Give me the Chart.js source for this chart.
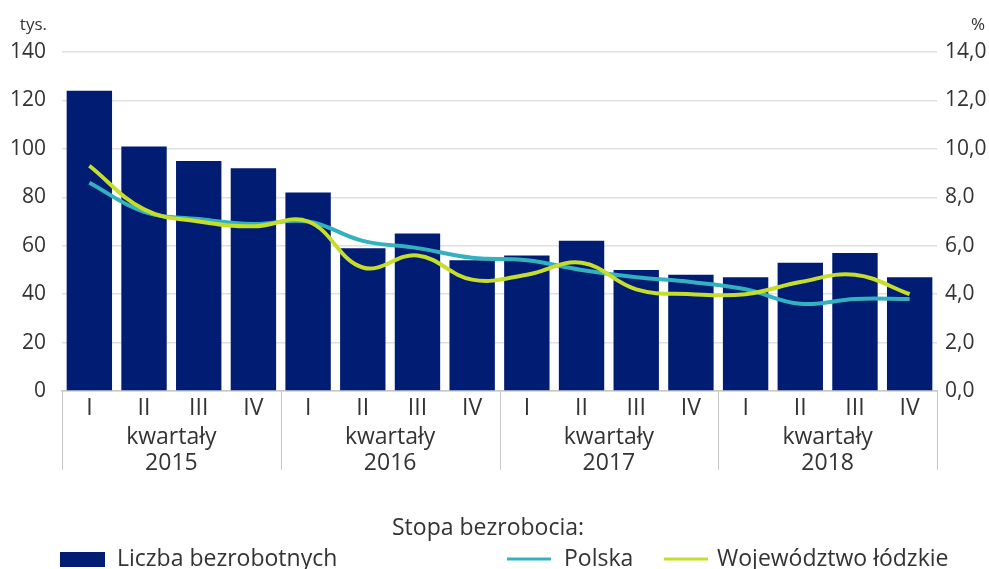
<!DOCTYPE html>
<html lang="pl">
<head>
<meta charset="utf-8">
<script src="https://cdn.jsdelivr.net/npm/chart.js@4/dist/chart.umd.min.js"></script>
<style>
  html, body { margin: 0; padding: 0; background: #fff; }
  #wrap { position: relative; width: 989px; height: 569px; overflow: hidden; }
</style>
</head>
<body>
<div id="wrap"><canvas id="chart" width="989" height="569"></canvas></div>
<script>
// quarters and years
const quarters = ['I', 'II', 'III', 'IV', 'I', 'II', 'III', 'IV', 'I', 'II', 'III', 'IV', 'I', 'II', 'III', 'IV'];
const years = ['2015', '2016', '2017', '2018'];

// liczba bezrobotnych, tys.
const unemployed = [124, 101, 95, 92, 82, 59, 65, 54, 56, 62, 50, 48, 47, 53, 57, 47];
// stopa bezrobocia, %
const ratePolska = [8.6, 7.4, 7.1, 6.9, 7.0, 6.2, 5.9, 5.5, 5.4, 5.0, 4.7, 4.5, 4.2, 3.6, 3.8, 3.8];
const rateLodzkie = [9.3, 7.5, 7.0, 6.8, 7.0, 5.1, 5.6, 4.6, 4.8, 5.3, 4.2, 4.0, 4.0, 4.5, 4.8, 4.0];

const leftTicks = [0, 20, 40, 60, 80, 100, 120, 140];
const rightTicks = [0, 2, 4, 6, 8, 10, 12, 14];

const FONT = "'Open Sans', 'Noto Sans', sans-serif";
const TEXT = '#333333';
const NAVY = '#001c73';
const TEAL = '#33b1bf';
const LIME = '#c6dd2a';

const extras = {
  id: 'extras',
  afterDraw(chart) {
    const { ctx, chartArea, scales } = chart;
    const x = scales.x;
    const half = (x.getPixelForValue(1) - x.getPixelForValue(0)) / 2;
    ctx.save();
    ctx.fillStyle = TEXT;
    ctx.font = `23px ${FONT}`;
    ctx.textAlign = 'center';
    ctx.textBaseline = 'middle';

    // group separators + year labels
    ctx.strokeStyle = '#c8c8c8';
    ctx.lineWidth = 1;
    years.forEach((yr, g) => {
      const first = x.getPixelForValue(g * 4) - half;
      const last = x.getPixelForValue(g * 4 + 3) + half;
      [first, last].forEach(px => {
        ctx.beginPath();
        ctx.moveTo(Math.round(px) + 0.5, chartArea.bottom);
        ctx.lineTo(Math.round(px) + 0.5, 470);
        ctx.stroke();
      });
      const mid = (first + last) / 2;
      ctx.fillText('kwartały', mid, 437);
      ctx.fillText(yr, mid, 463);
    });

    // unit titles
    ctx.font = `17px ${FONT}`;
    ctx.textAlign = 'right';
    ctx.fillText('tys.', 47, 25);
    ctx.fillText('%', 985, 25);

    // legend
    const ds = chart.data.datasets;
    ctx.font = `23px ${FONT}`;
    ctx.textAlign = 'left';
    ctx.fillText('Stopa bezrobocia:', 392, 528);
    ctx.fillStyle = ds[0].backgroundColor;
    ctx.fillRect(60, 552, 45, 15);
    ctx.fillStyle = TEXT;
    ctx.fillText(ds[0].label, 117, 559);

    [[ds[1], 507, 564], [ds[2], 664, 717]].forEach(([d, sx, tx]) => {
      ctx.strokeStyle = d.borderColor;
      ctx.lineWidth = 3;
      ctx.beginPath();
      ctx.moveTo(sx, 559);
      ctx.lineTo(sx + 44, 559);
      ctx.stroke();
      ctx.fillText(d.label, tx, 559);
    });
    ctx.restore();
  }
};

new Chart(document.getElementById('chart'), {
  data: {
    labels: quarters,
    datasets: [
      {
        type: 'bar',
        label: 'Liczba bezrobotnych',
        data: unemployed,
        backgroundColor: NAVY,
        barPercentage: 0.83,
        categoryPercentage: 1,
        yAxisID: 'y',
        order: 3
      },
      {
        type: 'line',
        label: 'Polska',
        data: ratePolska,
        borderColor: TEAL,
        borderWidth: 4,
        pointRadius: 0,
        tension: 0.4,
        yAxisID: 'y1',
        order: 2
      },
      {
        type: 'line',
        label: 'Województwo łódzkie',
        data: rateLodzkie,
        borderColor: LIME,
        borderWidth: 4,
        pointRadius: 0,
        tension: 0.4,
        yAxisID: 'y1',
        order: 1
      }
    ]
  },
  options: {
    responsive: false,
    animation: false,
    layout: { padding: { top: 52, left: 0, right: 0, bottom: 0 } },
    plugins: { legend: { display: false }, tooltip: { enabled: false } },
    scales: {
      x: {
        offset: true,
        grid: { display: true, drawOnChartArea: false, drawTicks: false },
        border: { display: true, color: '#c8c8c8', width: 1.5 },
        ticks: { color: TEXT, font: { family: FONT, size: 23 }, padding: 4, maxRotation: 0, autoSkip: false },
        afterFit: scale => { scale.height = 178; }
      },
      y: {
        position: 'left',
        min: 0,
        max: 140,
        afterBuildTicks: scale => { scale.ticks = leftTicks.map(v => ({ value: v })); },
        grid: { color: '#e0e0e0', lineWidth: 1.5, drawTicks: false },
        border: { display: false },
        ticks: { color: TEXT, font: { family: FONT, size: 21 }, padding: 16 },
        afterFit: scale => { scale.width = 62; }
      },
      y1: {
        position: 'right',
        min: 0,
        max: 14,
        afterBuildTicks: scale => { scale.ticks = rightTicks.map(v => ({ value: v })); },
        grid: { drawOnChartArea: false, drawTicks: false },
        border: { display: false },
        ticks: {
          color: TEXT,
          font: { family: FONT, size: 21 },
          padding: 8,
          callback: v => v.toFixed(1).replace('.', ',')
        },
        afterFit: scale => { scale.width = 52; }
      }
    }
  },
  plugins: [extras]
});
</script>
</body>
</html>
